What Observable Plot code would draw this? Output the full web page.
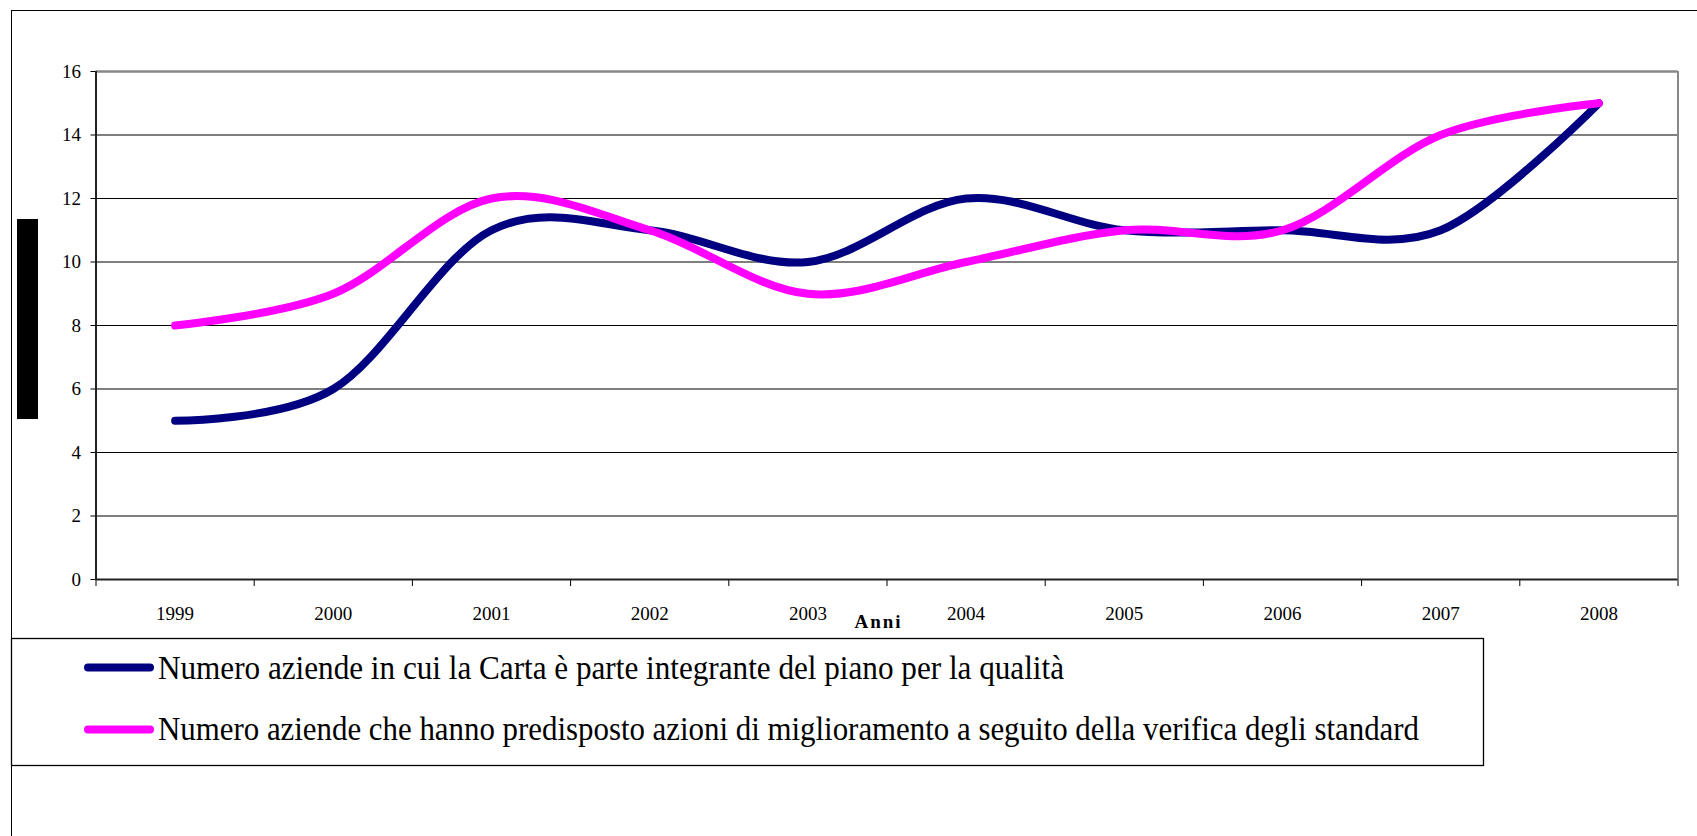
<!DOCTYPE html>
<html>
<head>
<meta charset="utf-8">
<script src="https://cdn.jsdelivr.net/npm/d3@7"></script>
<script src="https://cdn.jsdelivr.net/npm/@observablehq/plot@0.6"></script>
<style>
html, body { margin: 0; padding: 0; background: #fff; }
#wrap { position: relative; width: 1697px; height: 836px; overflow: hidden; background: #fff; font-family: "Liberation Serif", "Tinos", "DejaVu Serif", serif; }
#chart { position: absolute; left: 0; top: 0; }
#blk { position: absolute; left: 17px; top: 219px; width: 21px; height: 200px; background: #000; }
#legend { position: absolute; left: 0; top: 0; pointer-events: none; }
#frame { position: absolute; left: 11px; top: 10px; width: 1800px; height: 900px; border: 1px solid #000; pointer-events: none; }
#legend text, #chart text { font-family: "Liberation Serif", "Tinos", "DejaVu Serif", serif; }
</style>
</head>
<body>
<div id="wrap">
  <div id="chart"></div>
  <div id="blk"></div>
  <svg id="legend" width="1697" height="836"></svg>
  <div id="frame"></div>
</div>
<script>
// ---- data ----
const years = [1999, 2000, 2001, 2002, 2003, 2004, 2005, 2006, 2007, 2008];
const carta = [5, 6, 11, 11, 10, 12, 11, 11, 11, 15];
const miglioramento = [8, 9, 12, 11, 9, 10, 11, 11, 14, 15];
const yTicks = [0, 2, 4, 6, 8, 10, 12, 14, 16];
const gridValues = [2, 4, 6, 8, 10, 12, 14];
const seriesNames = [
  "Numero aziende in cui la Carta è parte integrante del piano per la qualità",
  "Numero aziende che hanno predisposto azioni di miglioramento a seguito della verifica degli standard"
];
const seriesColors = ["#000080", "#ff00ff"];
const xTitle = "Anni";

// ---- build table ----
const seriesValues = [carta, miglioramento];
const data = [];
seriesNames.forEach((name, k) => {
  years.forEach((yr, i) => data.push({year: yr, value: seriesValues[k][i], serie: name}));
});
const bounds = [years[0] - 0.5, ...years.map(y => y + 0.5)];
const serifStack = "'Liberation Serif', 'Tinos', 'DejaVu Serif', serif";

const chart = Plot.plot({
  width: 1697,
  height: 636,
  marginLeft: 95.5,
  marginRight: 19.5,
  marginTop: 71,
  marginBottom: 57,
  style: {background: "transparent", fontFamily: serifStack, fontSize: "19px", color: "#000", overflow: "visible"},
  x: {type: "linear", domain: [bounds[0], bounds[bounds.length - 1]]},
  y: {domain: [0, 16]},
  color: {domain: seriesNames, range: seriesColors},
  marks: [
    Plot.ruleY(gridValues, {stroke: "#000", strokeWidth: 1.2}),
    Plot.ruleY([16], {stroke: "#888", strokeWidth: 2.5}),
    Plot.ruleX([bounds[bounds.length - 1]], {stroke: "#888", strokeWidth: 2}),
    Plot.lineY(data, {x: "year", y: "value", z: "serie", stroke: "serie", strokeWidth: 8,
      curve: "cardinal", tension: 0, strokeLinecap: "round", strokeLinejoin: "round"}),
    Plot.axisY({ticks: yTicks, tickSize: 5, tickPadding: 10, label: null, tickFormat: d => String(d)}),
    Plot.axisX({ticks: bounds, tickSize: 7, tickFormat: () => "", label: null}),
    Plot.axisX({ticks: years, tickSize: 0, tickPadding: 27, tickFormat: d => String(d), label: null}),
    Plot.ruleX([bounds[0]], {stroke: "#222", strokeWidth: 2}),
    Plot.ruleY([0], {stroke: "#222", strokeWidth: 2}),
    Plot.text([xTitle], {frameAnchor: "bottom", dx: -8.5, dy: 42, lineAnchor: "middle", fontWeight: "bold", fontSize: 19})
  ]
});
document.getElementById("chart").appendChild(chart);
d3.select(chart).selectAll("text").filter(function() { return this.textContent === xTitle; })
  .attr("letter-spacing", "2px");

// ---- legend ----
const leg = d3.select("#legend");
leg.append("rect").attr("x", 11.5).attr("y", 638.5).attr("width", 1472).attr("height", 127)
  .attr("fill", "none").attr("stroke", "#000").attr("stroke-width", 1.3);
const rowY = [667.5, 729.5];
const baseY = [679, 739.5];
const textLen = [906, 1261];
seriesNames.forEach((name, i) => {
  leg.append("line").attr("x1", 88).attr("x2", 150).attr("y1", rowY[i]).attr("y2", rowY[i])
    .attr("stroke", seriesColors[i]).attr("stroke-width", 8).attr("stroke-linecap", "round");
  leg.append("text").attr("x", 158).attr("y", baseY[i])
    .attr("font-family", serifStack).attr("font-size", 34)
    .attr("fill", "#000").attr("textLength", textLen[i]).attr("lengthAdjust", "spacingAndGlyphs")
    .text(name);
});
</script>
</body>
</html>
